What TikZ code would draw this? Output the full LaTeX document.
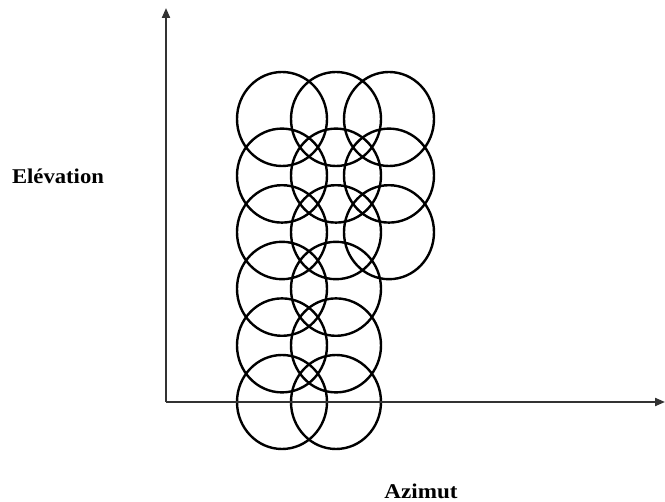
\documentclass[tikz,border=0pt]{standalone}
\usepackage{fontspec}
\setmainfont{Liberation Serif}
\usetikzlibrary{shapes.geometric,arrows.meta}
\begin{document}
\begin{tikzpicture}[x=1pt,y=-1pt,
  beam/.style={draw=black,line width=2.4pt,ellipse,minimum width=90pt,minimum height=94pt,inner sep=0pt},
  axis/.style={draw=black!80,line width=2pt,-{Triangle[length=10pt,width=8pt]}},
  lbl/.style={font=\bfseries\fontsize{21}{21}\selectfont,inner sep=0pt}]
\useasboundingbox (0,0) rectangle (665,502);
\coordinate (O) at (166,402);
\coordinate (Ytop) at (166,8);
\coordinate (Xend) at (665,402);
\foreach \r [count=\i] in {119,175.6,232.2,288.8,345.4,402}{
  \node[beam] (L\i) at (282,\r) {};
  \node[beam] (M\i) at (336,\r) {};
}
\foreach \r [count=\i] in {119,175.6,232.2}{
  \node[beam] (R\i) at (389,\r) {};
}
\draw[axis] (O) -- (Ytop);
\draw[axis] (O) -- (Xend);
\node[lbl,xscale=1.08] (el) at (58,176) {Elévation};
\node[lbl,xscale=1.1] (az) at (421,491) {Azimut};
\end{tikzpicture}
\end{document}
